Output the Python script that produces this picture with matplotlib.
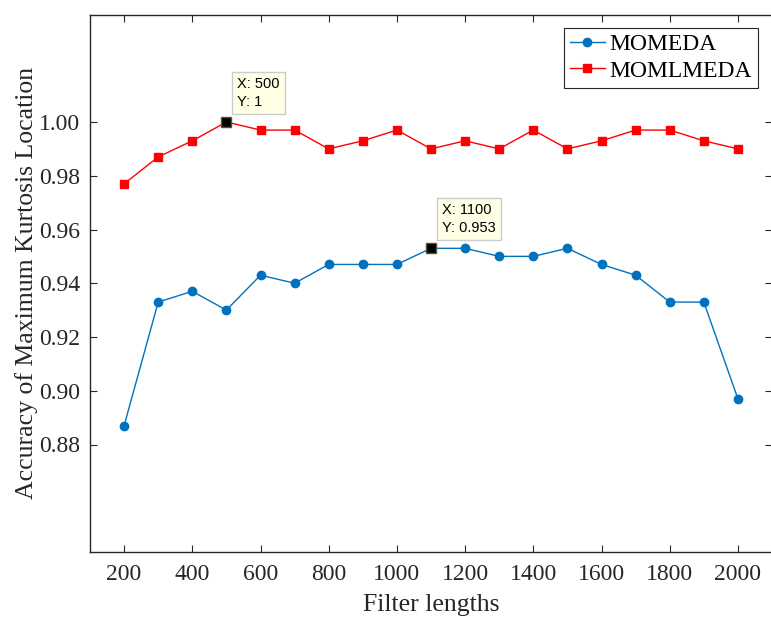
import matplotlib
matplotlib.use("Agg")
from matplotlib import pyplot as plt
import numpy as np

"data"
filter_lengths = [200, 300, 400, 500, 600, 700, 800, 900, 1000, 1100,
                  1200, 1300, 1400, 1500, 1600, 1700, 1800, 1900, 2000]
momeda = [0.887, 0.933, 0.937, 0.930, 0.943, 0.940, 0.947, 0.947, 0.947, 0.953,
          0.953, 0.950, 0.950, 0.953, 0.947, 0.943, 0.933, 0.933, 0.897]
momlmeda = [0.977, 0.987, 0.993, 1.000, 0.997, 0.997, 0.990, 0.993, 0.997, 0.990,
            0.993, 0.990, 0.997, 0.990, 0.993, 0.997, 0.997, 0.993, 0.990]
x_ticks = [200, 400, 600, 800, 1000, 1200, 1400, 1600, 1800, 2000]
y_ticks = [0.88, 0.90, 0.92, 0.94, 0.96, 0.98, 1.00]
tip1 = (500, 1.000, 'X: 500\nY: 1')
tip2 = (1100, 0.953, 'X: 1100\nY: 0.953')

"format"
matplotlib.rcParams.update({'xtick.direction': 'in', 'ytick.direction': 'in',
                            'xtick.top': True, 'ytick.right': True,
                            'font.family': ['Liberation Serif', 'DejaVu Serif'],
                            'axes.linewidth': 1.0})

fig = plt.figure(figsize=(7.71, 6.17), dpi=100)
ax = fig.add_axes([90 / 771, 1 - 552 / 617, 682 / 771, (552 - 14.5) / 617])

ax.plot(filter_lengths, momeda, color='#0072BD', marker='o', markersize=6,
        linewidth=1.0, label='MOMEDA')
ax.plot(filter_lengths, momlmeda, color='#FF0000', marker='s', markersize=5.5,
        linewidth=1.0, label='MOMLMEDA')

ax.set_xlim(100, 2100)
ax.set_ylim(0.84, 1.04)
ax.set_xticks(x_ticks)
ax.set_yticks(y_ticks)
ax.set_yticklabels(['%.2f' % v for v in y_ticks])
ax.tick_params(labelsize=17, length=5, width=0.8, colors='#262626', labelcolor='#262626')
ax.tick_params(axis='x', pad=9)
ax.tick_params(axis='y', pad=7)
ax.set_xlabel('Filter lengths', fontsize=18.5, color='#262626', labelpad=6)
ax.set_ylabel('Accuracy of Maximum Kurtosis Location', fontsize=18.5, color='#262626', labelpad=1)
for s in ax.spines.values():
    s.set_color('#262626')

leg = ax.legend(loc='upper right', bbox_to_anchor=(0.979, 0.975), fontsize=17,
                fancybox=False, framealpha=1, edgecolor='#262626', borderaxespad=0,
                handlelength=1.45, borderpad=0.25, labelspacing=0.2, handletextpad=0.2)
leg.get_frame().set_linewidth(0.8)

"data tips"
for tx, ty, txt in [tip1, tip2]:
    ax.plot(tx, ty, marker='s', color='black', markersize=7, markeredgecolor='#555533', zorder=5)
    ax.annotate(txt, xy=(tx, ty), xytext=(11, 13), textcoords='offset pixels',
                fontsize=10.5, family=['Liberation Sans', 'DejaVu Sans'],
                linespacing=1.35, va='bottom', ha='left',
                bbox=dict(boxstyle='square,pad=0.35', fc='#FFFFE6', ec='#CCCCCC', lw=1))

fig.savefig('out.png', dpi=100)
